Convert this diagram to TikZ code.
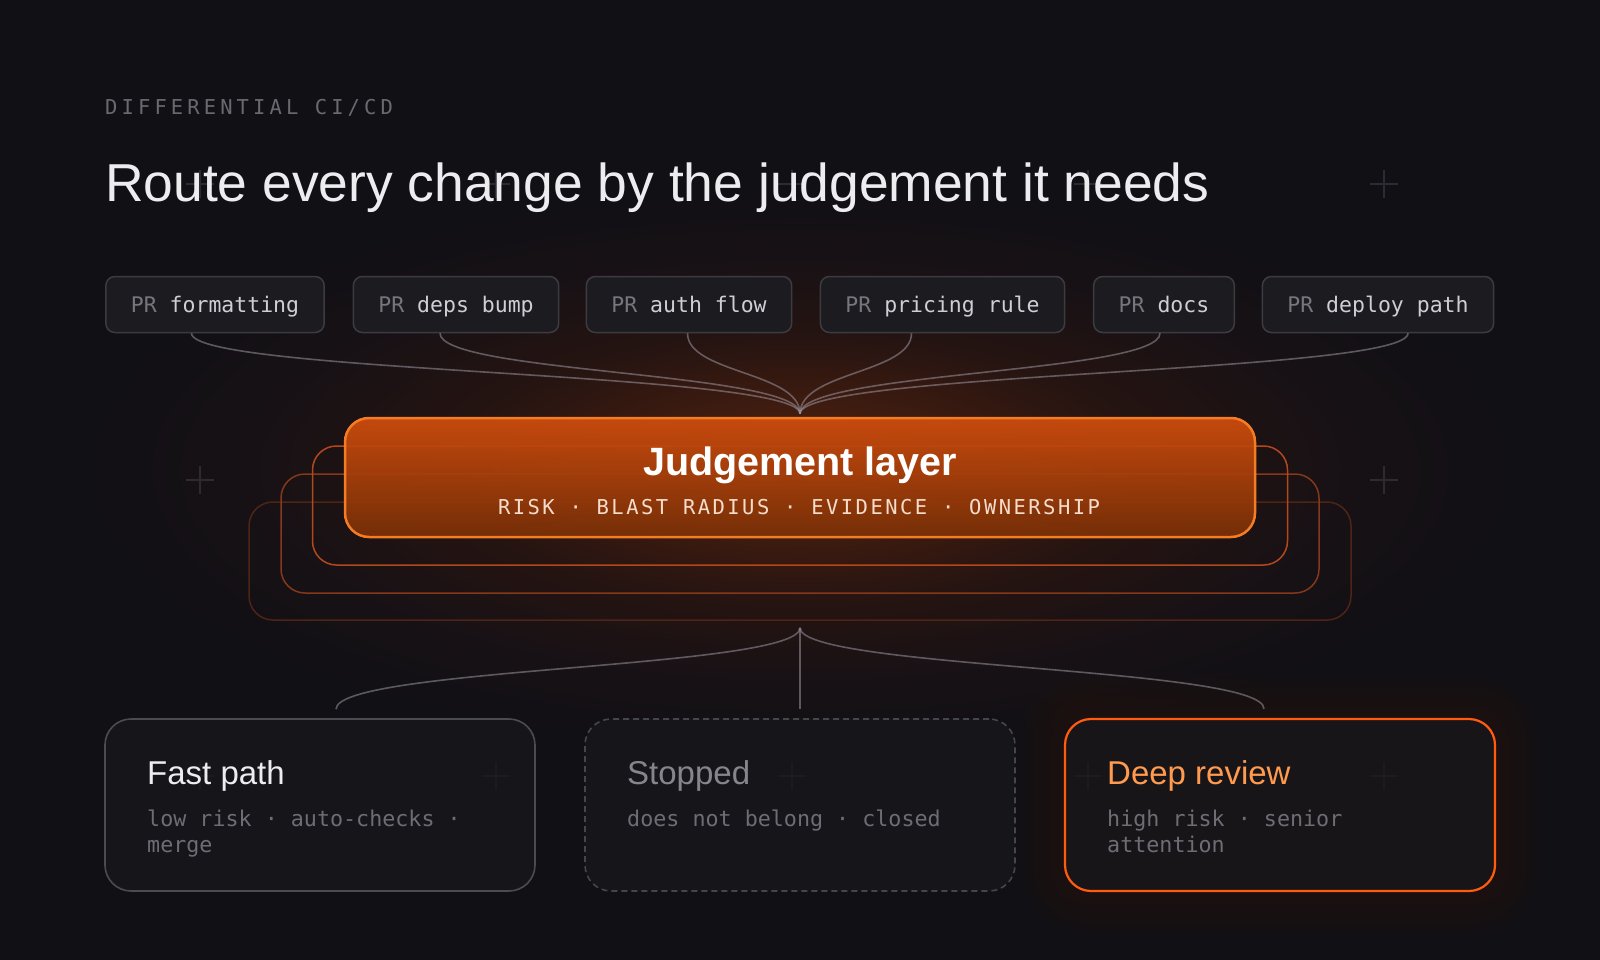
\documentclass[tikz,border=0pt]{standalone}
\usepackage{fontspec}
\setmainfont{Liberation Sans}
\newfontfamily\monof{DejaVu Sans Mono}
\newfontfamily\monoA{DejaVu Sans Mono}[LetterSpace=20]
\newfontfamily\monoB{DejaVu Sans Mono}[LetterSpace=12]
\usetikzlibrary{calc}

\definecolor{bg}{HTML}{111015}
\definecolor{plusc}{HTML}{2C2B32}
\definecolor{chipfill}{HTML}{1C1B20}
\definecolor{chipborder}{HTML}{3C3B41}
\definecolor{prgray}{HTML}{77767D}
\definecolor{chiptext}{HTML}{CFCED4}
\definecolor{labelgray}{HTML}{6A6970}
\definecolor{titlewhite}{HTML}{EDEDF0}
\definecolor{conncol}{HTML}{9A949E}
\definecolor{jg0}{HTML}{55240E}
\definecolor{jg1}{HTML}{3A1A10}
\definecolor{jg2}{HTML}{251411}
\definecolor{jg3}{HTML}{171115}
\definecolor{jtop}{HTML}{D14D0D}
\definecolor{jbot}{HTML}{7A3007}
\definecolor{jborder}{HTML}{F47C24}
\definecolor{jsub}{HTML}{F5DCCB}
\definecolor{stA}{HTML}{B4481A}
\definecolor{stB}{HTML}{86381A}
\definecolor{stC}{HTML}{4E2416}
\definecolor{boxfill}{HTML}{18171C}
\definecolor{fastborder}{HTML}{4C4B52}
\definecolor{stopborder}{HTML}{46454C}
\definecolor{deeporange}{HTML}{FF5C10}
\definecolor{deeptitle}{HTML}{FF9A4E}
\definecolor{subgray}{HTML}{6E6D75}
\definecolor{stoptitle}{HTML}{86858C}

\pgfdeclareradialshading{jglow}{\pgfpoint{0bp}{0bp}}{color(0bp)=(jg0); color(7bp)=(jg1); color(12bp)=(jg2); color(19bp)=(jg3); color(25bp)=(bg); color(50bp)=(bg)}

\tikzset{
  plusmark/.style={draw=plusc, line width=2pt},
  chip/.style={draw=chipborder, line width=1.5pt, fill=chipfill, rounded corners=9pt,
    inner xsep=25pt, inner ysep=0pt, minimum height=56pt, text=chiptext,
    text height=16pt, text depth=0pt,
    font=\monof\fontsize{21.5}{26}\selectfont},
  conn/.style={draw=conncol, draw opacity=0.55, line width=1.6pt},
  stackbox/.style={draw, line width=1.5pt, rounded corners=24pt, inner sep=0pt},
  judgebox/.style={draw=jborder, line width=2.5pt, rounded corners=24pt, inner sep=0pt,
    top color=jtop, bottom color=jbot, fill opacity=0.93,
    minimum width=910pt, minimum height=119pt},
  outbox/.style={line width=1.6pt, rounded corners=26pt, fill=boxfill, fill opacity=0.78,
    inner sep=0pt, minimum width=430pt, minimum height=172pt},
  btitle/.style={anchor=base west, inner sep=0pt, font=\fontsize{33}{38}\selectfont},
  bsub/.style={anchor=base west, inner sep=0pt, text=subgray, font=\monof\fontsize{21.7}{26}\selectfont},
}

\begin{document}
\begin{tikzpicture}[x=1pt,y=-1pt]
\fill[bg] (0,0) rectangle (1600,960);
\useasboundingbox (0,0) rectangle (1600,960);

% glows
\shade[shading=jglow] (800,470) ellipse [x radius=720pt, y radius=280pt];
\foreach \i in {1,...,10}{
  \fill[deeporange, opacity=0.007, rounded corners=26pt+\i*4pt]
    (1065-\i*4.5,719-\i*4.5) rectangle (1495+\i*4.5,891+\i*4.5);
}

% plus grid
\foreach \x in {200,496,792,1088,1384}{
  \foreach \y in {184,480,776}{
    \draw[plusmark] (\x-14,\y) -- (\x+14,\y) (\x,\y-14) -- (\x,\y+14);
  }
}

% header
\node[anchor=base west, inner sep=0pt, text=labelgray, font=\monoA\fontsize{20.5}{24}\selectfont] (eyebrow) at (105,115) {DIFFERENTIAL CI/CD};
\node[anchor=base west, inner sep=0pt, text=titlewhite, font=\fontsize{53.4}{60}\selectfont] (title) at (105,202) {Route every change by the judgement it needs};

% chips
\node[chip] (c1) at (215,304.5) {\textcolor{prgray}{PR} formatting};
\node[chip] (c2) at (456,304.5) {\textcolor{prgray}{PR} deps bump};
\node[chip] (c3) at (689,304.5) {\textcolor{prgray}{PR} auth flow};
\node[chip] (c4) at (942.5,304.5) {\textcolor{prgray}{PR} pricing rule};
\node[chip] (c5) at (1164,304.5) {\textcolor{prgray}{PR} docs};
\node[chip] (c6) at (1378,304.5) {\textcolor{prgray}{PR} deploy path};

% stacked outlines
\node[stackbox, draw=stC, minimum width=1102pt, minimum height=118pt] (sC) at (800,561) {};
\node[stackbox, draw=stB, minimum width=1038pt, minimum height=119pt] (sB) at (800,533.5) {};
\node[stackbox, draw=stA, minimum width=975pt, minimum height=119pt] (sA) at (800,505.5) {};

% judgement box
\node[judgebox] (judge) at (800,477.5) {};
\node[anchor=base, inner sep=0pt, text=white, font=\bfseries\fontsize{39.5}{44}\selectfont] (jt) at (800,475) {Judgement layer};
\node[anchor=base, inner sep=0pt, text=jsub, font=\monoB\fontsize{20.5}{24}\selectfont] (js) at (799,514) {RISK · BLAST RADIUS · EVIDENCE · OWNERSHIP};

% inbound connectors
\coordinate (jin) at ($(judge.north)+(0,-3)$);
\draw[conn] ($(c1.south)+(-23.5,0)$) .. controls +(0,40) and +(0,-42) .. (jin);
\draw[conn] ($(c2.south)+(-16,0)$) .. controls +(0,40) and +(0,-42) .. (jin);
\draw[conn] ($(c3.south)+(-1.5,0)$) .. controls +(0,40) and +(0,-42) .. (jin);
\draw[conn] ($(c4.south)+(-31,0)$) .. controls +(0,40) and +(0,-42) .. (jin);
\draw[conn] ($(c5.south)+(-4,0)$) .. controls +(0,40) and +(0,-42) .. (jin);
\draw[conn] ($(c6.south)+(30,0)$) .. controls +(0,40) and +(0,-42) .. (jin);

% outcome boxes
\node[outbox, draw=fastborder] (fast) at (320,805) {};
\node[outbox, draw=stopborder, dash pattern=on 6pt off 4pt] (stop) at (800,805) {};
\node[outbox, draw=deeporange, line width=2.2pt] (deep) at (1280,805) {};

% outbound connectors
\coordinate (jout) at ($(sC.south)+(0,7)$);
\draw[conn] (jout) -- ($(stop.north)+(0,-9)$);
\draw[conn] (jout) .. controls +(0,41) and +(0,-42) .. ($(fast.north)+(16,-9)$);
\draw[conn] (jout) .. controls +(0,41) and +(0,-42) .. ($(deep.north)+(-16,-9)$);

% box texts
\node[btitle, text=titlewhite] (ft) at (147,784) {Fast path};
\node[bsub] (fs1) at (147,826) {low risk · auto-checks ·};
\node[bsub] (fs2) at (147,852) {merge};

\node[btitle, text=stoptitle] (st) at (627,784) {Stopped};
\node[bsub] (ss1) at (627,826) {does not belong · closed};

\node[btitle, text=deeptitle] (dt) at (1107,784) {Deep review};
\node[bsub] (ds1) at (1107,826) {high risk · senior};
\node[bsub] (ds2) at (1107,852) {attention};
\end{tikzpicture}
\end{document}
